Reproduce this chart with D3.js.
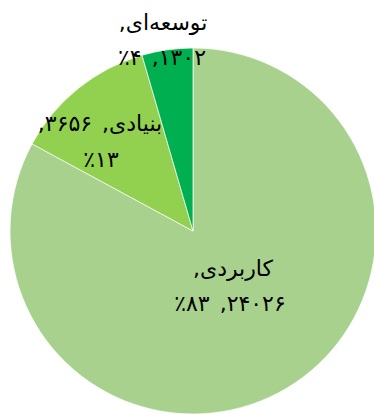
<!DOCTYPE html>
<html>
<head>
<meta charset="utf-8">
<script src="https://cdn.jsdelivr.net/npm/d3@7"></script>
<style>
  html, body { margin: 0; padding: 0; background: #fff; }
  svg { display: block; }
</style>
</head>
<body>
<svg id="chart" width="374" height="414"></svg>
<script>
// Research types and their counts
const categories = ["کاربردی", "بنیادی", "توسعه‌ای"];
const values = [24026, 3656, 1302];
const percents = [83, 13, 4];
const colors = ["#a9d18e", "#92d050", "#00b050"];

// Number of comma-separated label parts placed on the first line
const firstLineParts = [1, 2, 1];
// Label line centres, relative to the pie centre
const labelPos = [
  [[40, 37], [37, 72]],
  [[-93, -108], [-92, -72]],
  [[-30, -209], [-31, -174]]
];

const width = 374, height = 414;
const cx = 193, cy = 231, radius = 183;

const toFa = n => String(n).replace(/\d/g, d => "۰۱۲۳۴۵۶۷۸۹"[+d]);

const svg = d3.select("#chart");
const g = svg.append("g").attr("transform", `translate(${cx},${cy})`);

const data = categories.map((c, i) => ({ cat: c, value: values[i], pct: percents[i], color: colors[i], i }));

const pie = d3.pie().sort(null).value(d => d.value).startAngle(0).endAngle(2 * Math.PI);
const arc = d3.arc().innerRadius(0).outerRadius(radius);

g.selectAll("path.slice")
  .data(pie(data))
  .join("path")
  .attr("class", "slice")
  .attr("d", arc)
  .attr("fill", d => d.data.color)
  .attr("stroke", "#ffffff")
  .attr("stroke-width", 0.7);

// Data labels: category, value, percentage
data.forEach((d, i) => {
  const parts = [d.cat, toFa(d.value), "٪" + toFa(d.pct)];
  const n = firstLineParts[i];
  const line1 = parts.slice(0, n).join(", ") + ",";
  const line2 = parts.slice(n).join(", ");
  [line1, line2].forEach((txt, k) => {
    g.append("text")
      .attr("x", labelPos[i][k][0])
      .attr("y", labelPos[i][k][1])
      .attr("direction", "rtl")
      .attr("text-anchor", "middle")
      .attr("dominant-baseline", "central")
      .attr("font-family", "'DejaVu Sans', sans-serif")
      .attr("font-size", 22)
      .attr("word-spacing", 3)
      .attr("fill", "#000")
      .text(txt);
  });
});
</script>
</body>
</html>
